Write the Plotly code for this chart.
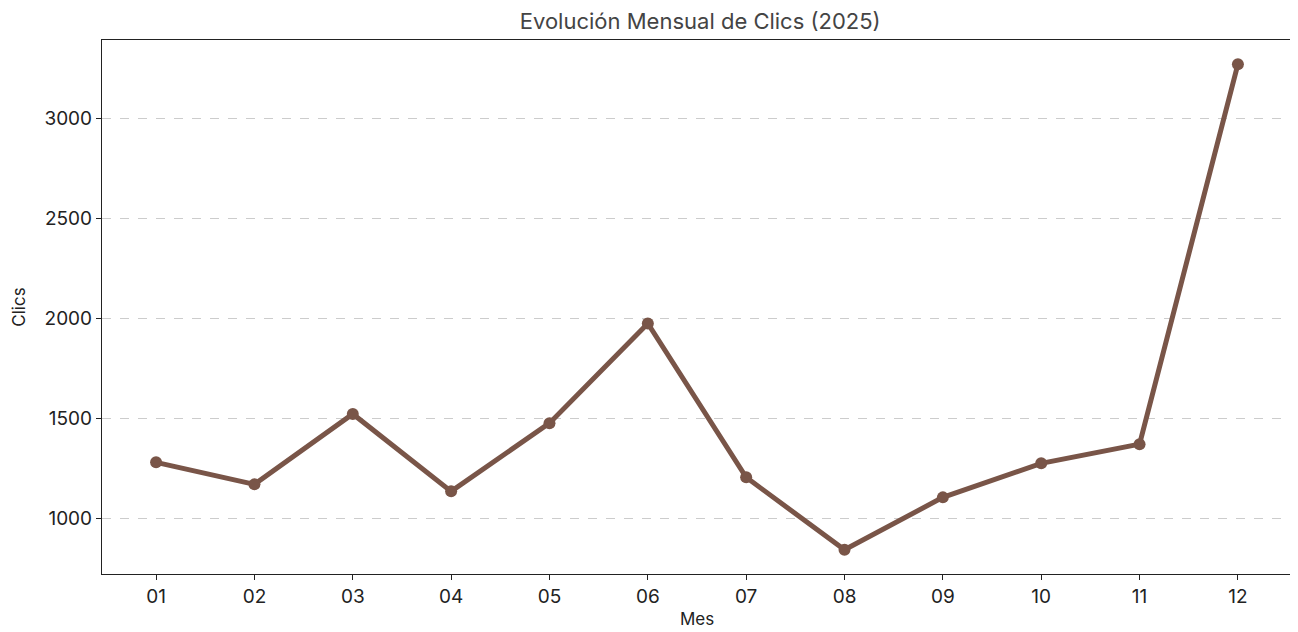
import plotly.graph_objects as go

meses = ["01", "02", "03", "04", "05", "06", "07", "08", "09", "10", "11", "12"]
clics = [1281, 1171, 1523, 1136, 1477, 1975, 1206, 844, 1106, 1276, 1372, 3271]
y_ticks = [1000, 1500, 2000, 2500, 3000]

color = "#795548"
font = "Inter, Open Sans, sans-serif"

fig = go.Figure(go.Scatter(
    x=list(range(len(meses))), y=clics, mode="lines+markers",
    line=dict(color=color, width=5),
    marker=dict(color=color, size=12),
))

fig.update_layout(
    width=1290, height=624,
    margin=dict(l=94, r=6, t=32, b=58),
    paper_bgcolor="white", plot_bgcolor="white",
    font=dict(family=font, size=19, color="#222222"),
    title=dict(text="Evolución Mensual de Clics (2025)", x=0.5366, xanchor="center",
               y=0.978, yanchor="middle", font=dict(size=22, color="#444444")),
    showlegend=False,
)
fig.update_xaxes(
    range=[-0.55, 11.55], tickvals=list(range(len(meses))), ticktext=meses,
    showgrid=False, zeroline=False, showline=True, linecolor="#222222", linewidth=1.2,
    mirror=True, ticks="outside", ticklen=5, tickcolor="#222222", automargin=False,
    title=dict(text="Mes", font=dict(size=17), standoff=6),
)
fig.update_yaxes(
    range=[723, 3392], tickvals=y_ticks,
    showgrid=True, gridcolor="#cccccc", griddash="dash", gridwidth=1,
    zeroline=False, showline=True, linecolor="#222222", linewidth=1.2,
    mirror=True, ticks="outside", ticklen=5, tickcolor="#222222", automargin=False,
    title=dict(text="Clics", font=dict(size=17), standoff=14),
)

fig.write_html("out.html")
